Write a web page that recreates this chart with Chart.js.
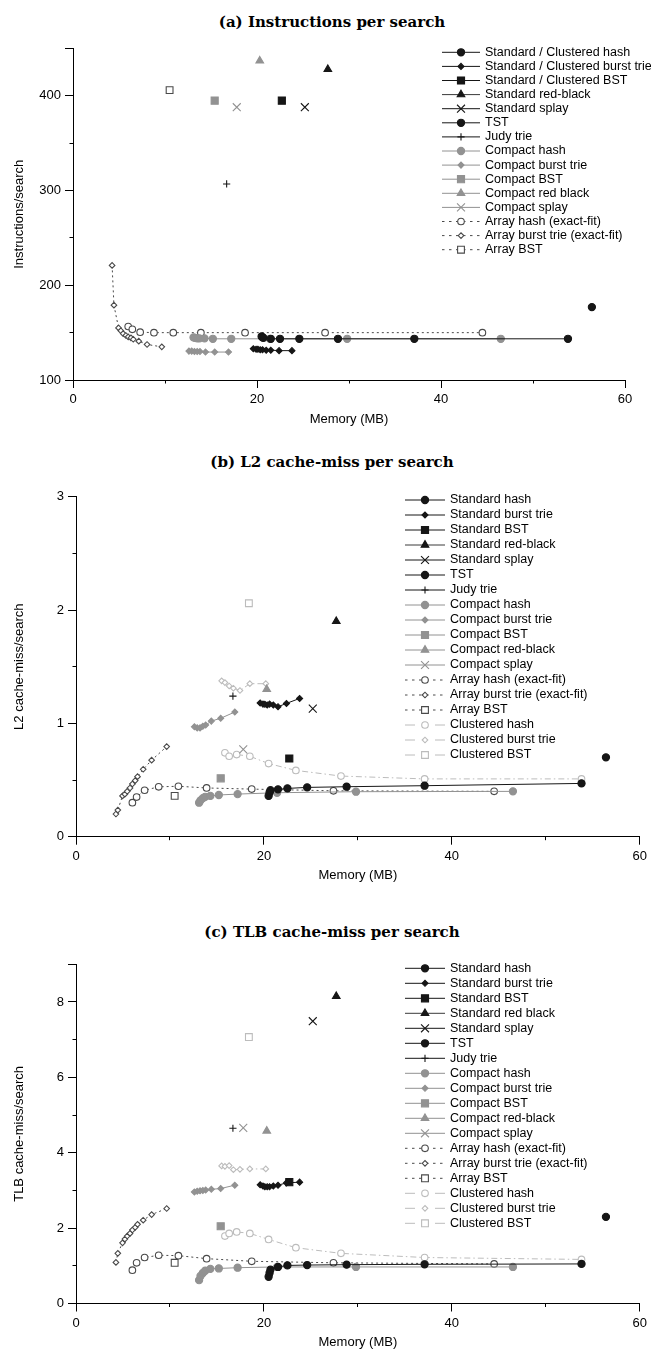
<!DOCTYPE html>
<html>
<head>
<meta charset="utf-8">
<script src="https://cdn.jsdelivr.net/npm/chart.js@4.4.1/dist/chart.umd.min.js"></script>
<style>
  body { margin: 0; background: #fff; width: 651px; height: 1355px; position: relative; overflow: hidden; }
  .panel { position: absolute; left: 0; width: 651px; }
  .ttl { position: absolute; left: 332px; transform: translateX(-50%); white-space: nowrap;
         font: bold 15px "DejaVu Serif", serif; color: #000; line-height: 18px; }
</style>
</head>
<body>
<div class="ttl" style="top:13px">(a) Instructions per search</div>
<div class="ttl" style="top:453px">(b) L2 cache-miss per search</div>
<div class="ttl" style="top:923px">(c) TLB cache-miss per search</div>

<div class="panel" style="top:0px"><canvas id="chartA" width="651" height="440"></canvas></div>
<div class="panel" style="top:440px"><canvas id="chartB" width="651" height="450"></canvas></div>
<div class="panel" style="top:890px"><canvas id="chartC" width="651" height="465"></canvas></div>

<script>
// --- memory (MB) of each structure ---
const xTickLabels = [0, 20, 40, 60];
const stdHashMem  = [20.5, 20.6, 20.7, 21.5, 22.5, 24.6, 28.8, 37.1, 53.8];
const stdBurstMem = [19.6, 19.9, 20.1, 20.35, 20.6, 21.0, 21.5, 22.4, 23.8];
const cmpHashMem  = [13.1, 13.25, 13.5, 13.75, 14.3, 15.2, 17.2, 21.4, 29.8, 46.5];
const cmpBurstMem = [12.6, 12.9, 13.2, 13.5, 13.8, 14.4, 15.4, 16.9];
const arrHashMem  = [6.0, 6.45, 7.3, 8.8, 10.9, 13.9, 18.7, 27.4, 44.5];
const arrBurstMem = [4.25, 4.45, 4.95, 5.2, 5.45, 5.75, 6.0, 6.3, 6.55, 7.15, 8.05, 9.65];
const clHashMem   = [15.85, 16.3, 17.1, 18.5, 20.5, 23.4, 28.2, 37.1, 53.8];
const clBurstMem  = [15.5, 15.85, 16.3, 16.75, 17.45, 18.5, 20.2];
// single-point structures
const singleKeys = ['stdBST', 'stdRB', 'stdSplay', 'tst', 'judy', 'cmpBST', 'cmpRB', 'cmpSplay', 'arrBST', 'clBST'];
const singleMem  = [22.7, 27.7, 25.2, 56.4, 16.7, 15.4, 20.3, 17.8, 10.5, 18.4];

// --- (a) instructions per search ---
const insStdHash  = [146, 145, 144.5, 143.5, 143.5, 143.5, 143.5, 143.5, 143.5];
const insStdBurst = [133, 132.5, 132.5, 132, 132, 131.5, 131.5, 131, 131];
const insCmpHash  = [145, 144.5, 144, 144, 144, 143.5, 143.5, 143.5, 143.5, 143.5];
const insCmpBurst = [130.5, 130.5, 130, 130, 130, 129.5, 129.5, 129.5];
const insArrHash  = [156.5, 153.5, 150.5, 150, 150, 150, 150, 150, 150];
const insArrBurst = [221, 179, 155, 152, 149, 147, 145.5, 144.5, 143, 141, 137.5, 135];
const insSingle   = [395, 428, 388, 177, 307, 395, 437, 388, 406, null];

// --- (b) L2 cache-miss per search ---
const l2StdHash  = [0.36, 0.39, 0.41, 0.418, 0.426, 0.435, 0.441, 0.45, 0.47];
const l2StdBurst = [1.18, 1.17, 1.168, 1.162, 1.17, 1.162, 1.147, 1.176, 1.22];
const l2CmpHash  = [0.30, 0.32, 0.34, 0.352, 0.36, 0.368, 0.376, 0.388, 0.397, 0.40];
const l2CmpBurst = [0.97, 0.96, 0.96, 0.975, 0.985, 1.02, 1.045, 1.10];
const l2ArrHash  = [0.30, 0.35, 0.41, 0.44, 0.445, 0.43, 0.42, 0.405, 0.40];
const l2ArrBurst = [0.20, 0.235, 0.36, 0.375, 0.40, 0.43, 0.465, 0.495, 0.53, 0.595, 0.675, 0.795];
const l2ClHash   = [0.74, 0.71, 0.725, 0.71, 0.645, 0.585, 0.535, 0.51, 0.51];
const l2ClBurst  = [1.375, 1.36, 1.33, 1.31, 1.29, 1.35, 1.35];
const l2Single   = [0.69, 1.90, 1.13, 0.70, 1.24, 0.515, 1.30, 0.77, 0.36, 2.06];

// --- (c) TLB cache-miss per search ---
const tlbStdHash  = [0.71, 0.81, 0.9, 0.97, 1.01, 1.02, 1.03, 1.04, 1.05];
const tlbStdBurst = [3.15, 3.12, 3.1, 3.1, 3.1, 3.12, 3.14, 3.2, 3.22];
const tlbCmpHash  = [0.62, 0.73, 0.81, 0.87, 0.92, 0.93, 0.95, 0.97, 0.97, 0.97];
const tlbCmpBurst = [2.96, 2.98, 2.99, 3.0, 3.01, 3.03, 3.05, 3.14];
const tlbArrHash  = [0.885, 1.08, 1.22, 1.28, 1.27, 1.19, 1.12, 1.08, 1.05];
const tlbArrBurst = [1.09, 1.33, 1.61, 1.71, 1.79, 1.86, 1.95, 2.02, 2.10, 2.21, 2.36, 2.52];
const tlbClHash   = [1.79, 1.86, 1.9, 1.86, 1.7, 1.48, 1.33, 1.22, 1.17];
const tlbClBurst  = [3.65, 3.64, 3.66, 3.55, 3.56, 3.57, 3.57];
const tlbSingle   = [3.22, 8.15, 7.49, 2.3, 4.65, 2.05, 4.58, 4.66, 1.08, 7.07];

const labelsA = ['Standard / Clustered hash', 'Standard / Clustered burst trie', 'Standard / Clustered BST',
  'Standard red-black', 'Standard splay', 'TST', 'Judy trie', 'Compact hash', 'Compact burst trie',
  'Compact BST', 'Compact red black', 'Compact splay', 'Array hash (exact-fit)',
  'Array burst trie (exact-fit)', 'Array BST'];
const labelsB = ['Standard hash', 'Standard burst trie', 'Standard BST', 'Standard red-black', 'Standard splay',
  'TST', 'Judy trie', 'Compact hash', 'Compact burst trie', 'Compact BST', 'Compact red-black',
  'Compact splay', 'Array hash (exact-fit)', 'Array burst trie (exact-fit)', 'Array BST',
  'Clustered hash', 'Clustered burst trie', 'Clustered BST'];
const labelsC = labelsB.map(l => l === 'Standard red-black' ? 'Standard red black' : l);

const seriesOrder = ['stdHash', 'stdBurst', 'stdBST', 'stdRB', 'stdSplay', 'tst', 'judy', 'cmpHash', 'cmpBurst',
  'cmpBST', 'cmpRB', 'cmpSplay', 'arrHash', 'arrBurst', 'arrBST', 'clHash', 'clBurst', 'clBST'];

// --- look of every series ---
const BLACK = '#161616', GRAY = '#929292', DARK = '#4a4a4a', LIGHT = '#bcbcbc';
const ARR_DASH = [2, 3], CL_DASH = [6, 3, 1.5, 3];
const ARR_LEG = [2.5, 4.5], CL_LEG = [10, 20];
const STYLE = {
  stdHash:  { line: BLACK, point: 'circle',   r: 3.6, fill: BLACK, stroke: BLACK },
  stdBurst: { line: BLACK, point: 'rectRot',  r: 3.0, fill: BLACK, stroke: BLACK },
  stdBST:   { line: BLACK, point: 'rect',     r: 5.0, fill: BLACK, stroke: BLACK },
  stdRB:    { line: '#3a3a3a', point: 'triangle', r: 4.4, fill: BLACK, stroke: BLACK },
  stdSplay: { line: BLACK, point: 'crossRot', r: 5.6, fill: BLACK, stroke: BLACK },
  tst:      { line: BLACK, point: 'circle',   r: 3.6, fill: BLACK, stroke: BLACK },
  judy:     { line: BLACK, point: 'cross',    r: 3.6, fill: BLACK, stroke: BLACK },
  cmpHash:  { line: GRAY, point: 'circle',   r: 3.6, fill: GRAY, stroke: GRAY },
  cmpBurst: { line: GRAY, point: 'rectRot',  r: 3.0, fill: GRAY, stroke: GRAY },
  cmpBST:   { line: GRAY, point: 'rect',     r: 5.0, fill: GRAY, stroke: GRAY },
  cmpRB:    { line: GRAY, point: 'triangle', r: 4.4, fill: GRAY, stroke: GRAY },
  cmpSplay: { line: GRAY, point: 'crossRot', r: 5.6, fill: GRAY, stroke: GRAY },
  arrHash:  { line: DARK, dash: ARR_DASH, legendDash: ARR_LEG, point: 'circle',  r: 3.3, fill: '#fff', stroke: DARK },
  arrBurst: { line: DARK, dash: ARR_DASH, legendDash: ARR_LEG, point: 'rectRot', r: 2.8, fill: '#fff', stroke: DARK },
  arrBST:   { line: DARK, dash: ARR_DASH, legendDash: ARR_LEG, point: 'rect',    r: 4.8, fill: '#fff', stroke: DARK },
  clHash:   { line: LIGHT, dash: CL_DASH, legendDash: CL_LEG, point: 'circle',  r: 3.3, fill: '#fff', stroke: LIGHT },
  clBurst:  { line: LIGHT, dash: CL_DASH, legendDash: CL_LEG, point: 'rectRot', r: 2.8, fill: '#fff', stroke: LIGHT },
  clBST:    { line: LIGHT, dash: CL_DASH, legendDash: CL_LEG, point: 'rect',    r: 4.8, fill: '#fff', stroke: LIGHT }
};

function makeDataset(key, label, mem, vals) {
  const st = STYLE[key];
  return {
    label: label,
    styleKey: key,
    data: mem.map((m, i) => ({ x: m, y: vals[i] })),
    showLine: mem.length > 1,
    borderColor: st.line,
    borderWidth: 1,
    borderDash: st.dash || [],
    pointStyle: st.point,
    pointRadius: st.r,
    pointHoverRadius: st.r,
    pointBackgroundColor: st.fill,
    pointBorderColor: st.stroke,
    pointBorderWidth: 1.1,
    tension: 0
  };
}

function buildDatasets(labels, curves, singles) {
  const out = [];
  labels.forEach((label, i) => {
    const key = seriesOrder[i];
    if (curves[key]) {
      out.push(makeDataset(key, label, curves[key][0], curves[key][1]));
    } else {
      const j = singleKeys.indexOf(key);
      out.push(makeDataset(key, label, [singleMem[j]], [singles[j]]));
    }
  });
  return out;
}

// legend marker (same shapes Chart.js uses for points)
function drawMark(ctx, st, x, y) {
  const r = st.r;
  ctx.save();
  ctx.setLineDash([]);
  ctx.lineWidth = 1.1;
  ctx.fillStyle = st.fill;
  ctx.strokeStyle = st.stroke;
  ctx.beginPath();
  switch (st.point) {
    case 'circle': ctx.arc(x, y, r, 0, Math.PI * 2); break;
    case 'rect': { const h = r * Math.SQRT1_2; ctx.rect(x - h, y - h, 2 * h, 2 * h); break; }
    case 'rectRot': ctx.moveTo(x - r, y); ctx.lineTo(x, y - r); ctx.lineTo(x + r, y); ctx.lineTo(x, y + r); ctx.closePath(); break;
    case 'triangle': {
      const a = 2 * Math.PI / 3;
      ctx.moveTo(x, y - r);
      ctx.lineTo(x + Math.sin(a) * r, y - Math.cos(a) * r);
      ctx.lineTo(x + Math.sin(2 * a) * r, y - Math.cos(2 * a) * r);
      ctx.closePath();
      break;
    }
    case 'cross': ctx.moveTo(x - r, y); ctx.lineTo(x + r, y); ctx.moveTo(x, y - r); ctx.lineTo(x, y + r); break;
    case 'crossRot': { const d = r * Math.SQRT1_2; ctx.moveTo(x - d, y - d); ctx.lineTo(x + d, y + d); ctx.moveTo(x + d, y - d); ctx.lineTo(x - d, y + d); break; }
  }
  if (st.point !== 'cross' && st.point !== 'crossRot') ctx.fill();
  ctx.stroke();
  ctx.restore();
}

// legend sitting inside the plot, top right (line + marker + text)
const insideLegend = {
  id: 'insideLegend',
  afterDraw(chart, args, opts) {
    const ctx = chart.ctx;
    ctx.save();
    ctx.font = '12.5px "Liberation Sans", Arial, sans-serif';
    ctx.textBaseline = 'middle';
    chart.data.datasets.forEach((ds, i) => {
      const st = STYLE[ds.styleKey];
      const y = opts.y0 + i * opts.dy;
      ctx.strokeStyle = st.line;
      ctx.lineWidth = 1;
      ctx.setLineDash(st.legendDash || []);
      ctx.beginPath();
      ctx.moveTo(opts.x0, y);
      ctx.lineTo(opts.x1, y);
      ctx.stroke();
      drawMark(ctx, st, (opts.x0 + opts.x1) / 2, y);
      ctx.fillStyle = '#000';
      ctx.fillText(ds.label, opts.tx, y);
    });
    ctx.restore();
  }
};

const FONT = { family: '"Liberation Sans", Arial, sans-serif', size: 13 };

// unlabeled short ticks between the labeled ones
function minorAxis(position, min, max, step) {
  return {
    type: 'linear', position: position, min: min, max: max, weight: 0,
    ticks: { stepSize: step, autoSkip: false, display: false },
    grid: { drawOnChartArea: false, drawTicks: true, tickLength: 3.5, tickColor: '#000' },
    border: { display: false },
    afterFit: s => { if (position === 'bottom') s.height = 0; else s.width = 0; }
  };
}

function makeChart(id, cfg) {
  new Chart(document.getElementById(id), {
    type: 'scatter',
    data: { datasets: cfg.datasets },
    plugins: [insideLegend],
    options: {
      responsive: false,
      animation: false,
      events: [],
      layout: { padding: { top: cfg.top, right: 651 - cfg.right, bottom: cfg.bottom, left: 0 } },
      plugins: {
        legend: { display: false },
        tooltip: { enabled: false },
        insideLegend: cfg.legend
      },
      scales: {
        x: {
          type: 'linear', min: 0, max: 60, weight: 1,
          ticks: {
            stepSize: 20, autoSkip: false, maxRotation: 0, padding: 4, color: '#000', font: FONT,
            callback: v => xTickLabels.includes(v) ? String(v) : ''
          },
          grid: { drawOnChartArea: false, drawTicks: true, tickLength: 8, tickColor: '#000' },
          border: { display: true, color: '#000', width: 1 },
          title: { display: true, text: 'Memory (MB)', color: '#000', font: FONT, padding: { top: 0, bottom: 3 } },
          afterFit: s => { s.height = 50; }
        },
        xMinor: minorAxis('bottom', 0, 60, 10),
        y: {
          type: 'linear', min: cfg.yMin, max: cfg.yMax, weight: 1,
          ticks: {
            stepSize: cfg.yMajor, autoSkip: false, padding: 4, color: '#000', font: FONT,
            callback: v => cfg.yLabels.includes(v) ? String(v) : ''
          },
          grid: { drawOnChartArea: false, drawTicks: true, tickLength: 8, tickColor: '#000' },
          border: { display: true, color: '#000', width: 1 },
          title: { display: true, text: cfg.yTitle, color: '#000', font: FONT, padding: { top: 12, bottom: 0 } },
          afterFit: s => { s.width = cfg.left; }
        },
        yMinor: minorAxis('left', cfg.yMin, cfg.yMax, cfg.yMinorStep)
      }
    }
  });
}

makeChart('chartA', {
  datasets: buildDatasets(labelsA, {
    stdHash: [stdHashMem, insStdHash], stdBurst: [stdBurstMem, insStdBurst],
    cmpHash: [cmpHashMem, insCmpHash], cmpBurst: [cmpBurstMem, insCmpBurst],
    arrHash: [arrHashMem, insArrHash], arrBurst: [arrBurstMem, insArrBurst]
  }, insSingle),
  yMin: 100, yMax: 450, yMajor: 100, yMinorStep: 50, yLabels: [100, 200, 300, 400], yTitle: 'Instructions/search',
  left: 73, right: 625, top: 48.5, bottom: 10,
  legend: { x0: 442, x1: 480, tx: 485, y0: 52.3, dy: 14.1 }
});

makeChart('chartB', {
  datasets: buildDatasets(labelsB, {
    stdHash: [stdHashMem, l2StdHash], stdBurst: [stdBurstMem, l2StdBurst],
    cmpHash: [cmpHashMem, l2CmpHash], cmpBurst: [cmpBurstMem, l2CmpBurst],
    arrHash: [arrHashMem, l2ArrHash], arrBurst: [arrBurstMem, l2ArrBurst],
    clHash: [clHashMem, l2ClHash], clBurst: [clBurstMem, l2ClBurst]
  }, l2Single),
  yMin: 0, yMax: 3, yMajor: 1, yMinorStep: 0.5, yLabels: [0, 1, 2, 3], yTitle: 'L2 cache-miss/search',
  left: 76, right: 640, top: 56.7, bottom: 3.3,
  legend: { x0: 405, x1: 445, tx: 450, y0: 60, dy: 15 }
});

makeChart('chartC', {
  datasets: buildDatasets(labelsC, {
    stdHash: [stdHashMem, tlbStdHash], stdBurst: [stdBurstMem, tlbStdBurst],
    cmpHash: [cmpHashMem, tlbCmpHash], cmpBurst: [cmpBurstMem, tlbCmpBurst],
    arrHash: [arrHashMem, tlbArrHash], arrBurst: [arrBurstMem, tlbArrBurst],
    clHash: [clHashMem, tlbClHash], clBurst: [clBurstMem, tlbClBurst]
  }, tlbSingle),
  yMin: 0, yMax: 9, yMajor: 2, yMinorStep: 1, yLabels: [0, 2, 4, 6, 8], yTitle: 'TLB cache-miss/search',
  left: 76, right: 640, top: 74.3, bottom: 1.5,
  legend: { x0: 405, x1: 445, tx: 450, y0: 78.3, dy: 15 }
});
</script>
</body>
</html>
